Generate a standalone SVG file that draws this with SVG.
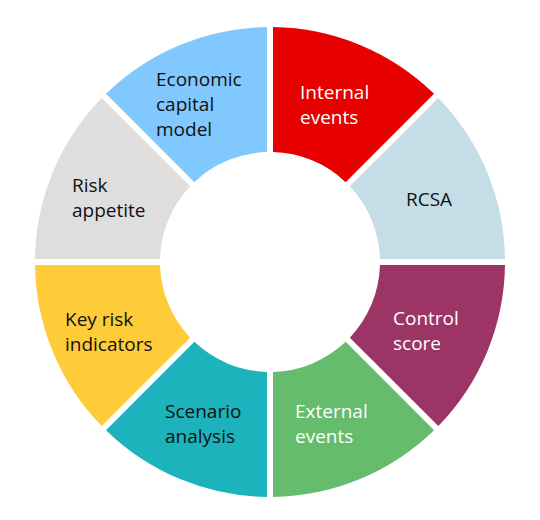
<svg xmlns="http://www.w3.org/2000/svg" width="540" height="520" viewBox="0 0 540 520">
<style>
text{font-family:"Open Sans","Noto Sans","DejaVu Sans",sans-serif;font-size:19px}
.dk{fill:#111111}
.lt{fill:#ffffff}
</style>
<rect width="540" height="520" fill="#ffffff"/>
<g id="connectors"></g>
<g id="internal-events">
<path d="M273,27.019 A235,235 0 0 1 434.036,93.722 L345.632,182.126 A110,110 0 0 0 273,152.041 Z" fill="#E60000"/>
<text class="lt" x="300" y="99">Internal</text>
<text class="lt" x="300" y="124">events</text>
</g>
<g id="rcsa">
<path d="M438.278,97.964 A235,235 0 0 1 504.981,259 L379.959,259 A110,110 0 0 0 349.874,186.368 Z" fill="#C4DDE6"/>
<text class="dk" x="406" y="206">RCSA</text>
</g>
<g id="control-score">
<path d="M504.981,265 A235,235 0 0 1 438.278,426.036 L349.874,337.632 A110,110 0 0 0 379.959,265 Z" fill="#9C3566"/>
<text class="lt" x="393" y="325">Control</text>
<text class="lt" x="393" y="350">score</text>
</g>
<g id="external-events">
<path d="M434.036,430.278 A235,235 0 0 1 273,496.981 L273,371.959 A110,110 0 0 0 345.632,341.874 Z" fill="#65BC6C"/>
<text class="lt" x="295" y="418">External</text>
<text class="lt" x="295" y="443">events</text>
</g>
<g id="scenario-analysis">
<path d="M267,496.981 A235,235 0 0 1 105.964,430.278 L194.368,341.874 A110,110 0 0 0 267,371.959 Z" fill="#1CB3BC"/>
<text class="dk" x="165" y="418">Scenario</text>
<text class="dk" x="165" y="443">analysis</text>
</g>
<g id="key-risk-indicators">
<path d="M101.722,426.036 A235,235 0 0 1 35.019,265 L160.041,265 A110,110 0 0 0 190.126,337.632 Z" fill="#FECB39"/>
<text class="dk" x="65" y="326">Key risk</text>
<text class="dk" x="65" y="351">indicators</text>
</g>
<g id="risk-appetite">
<path d="M35.019,259 A235,235 0 0 1 101.722,97.964 L190.126,186.368 A110,110 0 0 0 160.041,259 Z" fill="#DEDEDE"/>
<text class="dk" x="72" y="192">Risk</text>
<text class="dk" x="72" y="217">appetite</text>
</g>
<g id="economic-capital-model">
<path d="M105.964,93.722 A235,235 0 0 1 267,27.019 L267,152.041 A110,110 0 0 0 194.368,182.126 Z" fill="#80C8FE"/>
<text class="dk" x="156" y="86">Economic</text>
<text class="dk" x="156" y="111">capital</text>
<text class="dk" x="156" y="136">model</text>
</g>
</svg>
